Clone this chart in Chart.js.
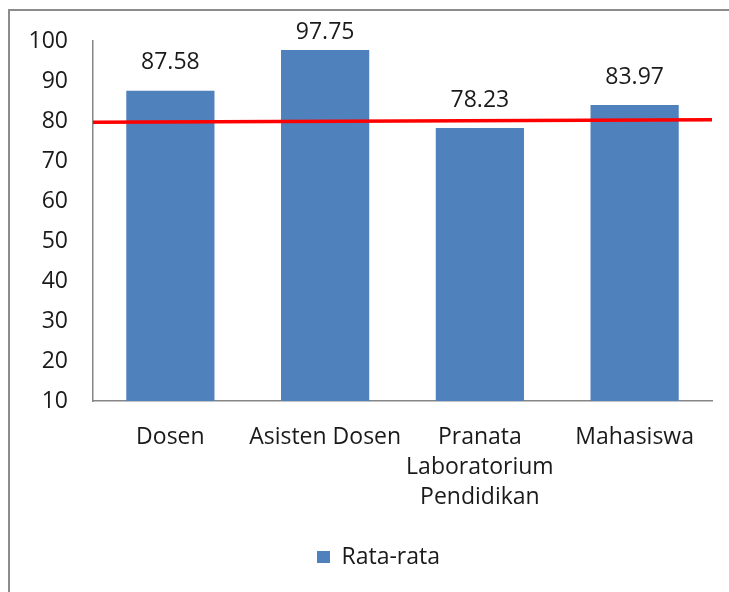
<!DOCTYPE html>
<html>
<head>
<meta charset="utf-8">
<script src="https://cdn.jsdelivr.net/npm/chart.js@4/dist/chart.umd.min.js"></script>
<style>
  html, body { margin: 0; padding: 0; background: #fff; overflow: hidden; }
  #frame { position: absolute; left: 8px; top: 9px; width: 760px; height: 620px; border: 2px solid #8c8c8c; }
  #chart { position: absolute; left: 0; top: 0; }
</style>
</head>
<body>
<div id="frame"></div>
<canvas id="chart" width="729" height="592"></canvas>
<script>
const categories = ["Dosen", "Asisten Dosen", ["Pranata", "Laboratorium", "Pendidikan"], "Mahasiswa"];
const averages = [87.58, 97.75, 78.23, 83.97];
const thresholdLine = [{ x: 0, y: 79.7 }, { x: 1, y: 80.3 }];
const yTicks = [10, 20, 30, 40, 50, 60, 70, 80, 90, 100];

const FONT = "'Open Sans', Lato, sans-serif";

// value labels above each bar
const valueLabels = {
  id: "valueLabels",
  afterDatasetsDraw(chart) {
    const ctx = chart.ctx;
    const meta = chart.getDatasetMeta(0);
    ctx.save();
    ctx.font = "23px " + FONT;
    ctx.fillStyle = "#1a1a1a";
    ctx.textAlign = "center";
    ctx.textBaseline = "middle";
    meta.data.forEach((bar, i) => {
      const y = Math.max(bar.y - 28, chart.chartArea.top - 9);
      ctx.fillText(averages[i].toFixed(2), bar.x, y);
    });
    ctx.restore();
  }
};

// legend in the original is centred under the whole frame, a bit right of the canvas centre
const legendShift = {
  id: "legendShift",
  afterLayout(chart) {
    if (chart.legend) {
      chart.legend.left += 45;
    }
  }
};

new Chart(document.getElementById("chart"), {
  type: "bar",
  data: {
    labels: categories,
    datasets: [
      {
        label: "Rata-rata",
        data: averages,
        backgroundColor: "#4f81bd",
        barPercentage: 0.57,
        categoryPercentage: 1,
        grouped: false,
        order: 2
      },
      {
        type: "line",
        label: "batas",
        data: thresholdLine,
        xAxisID: "x2",
        borderColor: "#ff0000",
        borderWidth: 3.5,
        pointRadius: 0,
        order: 1
      }
    ]
  },
  options: {
    responsive: false,
    animation: false,
    layout: { padding: { left: 0, right: 17, top: 41, bottom: 13.5 } },
    scales: {
      x: {
        grid: { display: false, drawTicks: false },
        border: { color: "#868686", width: 1.5 },
        ticks: { color: "#1a1a1a", font: { family: FONT, size: 23, lineHeight: 1.3 }, padding: 22, maxRotation: 0, autoSkip: false },
        afterFit(scale) { scale.height = 134.5; }
      },
      x2: { type: "linear", min: 0, max: 1, offset: false, display: false },
      y: {
        min: 10,
        max: 100,
        afterBuildTicks(scale) { scale.ticks = yTicks.map(v => ({ value: v })); },
        grid: { display: false, drawTicks: false },
        border: { color: "#868686", width: 1.5 },
        ticks: { color: "#1a1a1a", font: { family: FONT, size: 23 }, padding: 25 },
        afterFit(scale) { scale.width = 93; }
      }
    },
    plugins: {
      legend: {
        position: "bottom",
        labels: {
          color: "#1a1a1a",
          font: { family: FONT, size: 23 },
          boxWidth: 13,
          boxHeight: 12,
          padding: 10,
          filter: item => item.datasetIndex === 0
        }
      },
      tooltip: { enabled: false }
    }
  },
  plugins: [valueLabels, legendShift]
});
</script>
</body>
</html>
